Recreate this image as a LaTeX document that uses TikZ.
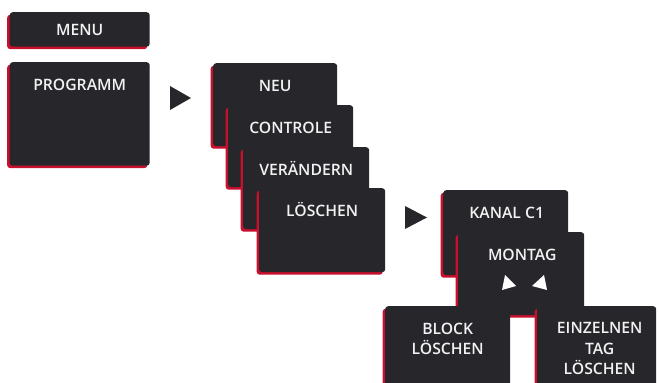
\documentclass[tikz,border=0pt]{standalone}
\usepackage{fontspec}
\setmainfont{Open Sans}
\IfFontExistsTF{OpenSans-Semibold.otf}{\newfontfamily\labelfont{OpenSans-Semibold.otf}}{%
 \IfFontExistsTF{OpenSans-SemiBold.otf}{\newfontfamily\labelfont{OpenSans-SemiBold.otf}}{%
  \IfFontExistsTF{OpenSans-Semibold.ttf}{\newfontfamily\labelfont{OpenSans-Semibold.ttf}}{%
   \IfFontExistsTF{OpenSans-SemiBold.ttf}{\newfontfamily\labelfont{OpenSans-SemiBold.ttf}}{%
    \newcommand\labelfont{\bfseries}}}}}
\usetikzlibrary{shadows}
\definecolor{boxdark}{HTML}{27272B}
\definecolor{boxred}{HTML}{C8102E}
\definecolor{txtw}{HTML}{F2F2F2}
\tikzset{
  panel/.style={fill=boxdark, draw=none, rounded corners=3pt, inner sep=0pt, anchor=north west,
    general shadow={fill=boxred, shadow xshift=-2.5pt, shadow yshift=-2.5pt}},
  lbl/.style={text=txtw, font=\labelfont\fontsize{15.7}{20.5}\selectfont, inner sep=0pt, anchor=base},
  mlbl/.style={lbl, anchor=north, align=center},
  arrowtri/.style={fill=boxdark, draw=none},
  wtri/.style={fill=white, draw=none}
}
\begin{document}
\begin{tikzpicture}[x=1pt,y=-1pt]
\useasboundingbox (0,0) rectangle (659,383);
\begin{scope}
\clip (-5,-5) rectangle (659,383);
% MENU
\node[panel, minimum width=140pt, minimum height=34.5pt] (menu) at (9.5,12) {};
\node[lbl] (tmenu) at ([yshift=-23pt]menu.north) {MENU};
% PROGRAMM
\node[panel, minimum width=140pt, minimum height=103.5pt] (prog) at (9.5,62) {};
\node[lbl] (tprog) at ([yshift=-28pt]prog.north) {PROGRAMM};
% arrow 1
\fill[arrowtri] (170,86) -- (170,110) -- (191,98) -- cycle;
% stacked menu
\node[panel, minimum width=124pt, minimum height=83pt] (neu) at (213,63) {};
\node[lbl] (tneu) at ([yshift=-28pt]neu.north) {NEU};
\node[panel, minimum width=125pt, minimum height=82pt] (ctrl) at (228,105) {};
\node[lbl] (tctrl) at ([yshift=-28pt]ctrl.north) {CONTROLE};
\node[panel, minimum width=126pt, minimum height=82pt] (ver) at (243,147) {};
\node[lbl] (tver) at ([yshift=-28pt]ver.north) {VERÄNDERN};
\node[panel, minimum width=126pt, minimum height=84pt] (loe) at (259,188) {};
\node[lbl] (tloe) at ([yshift=-28pt]loe.north) {LÖSCHEN};
% arrow 2
\fill[arrowtri] (405,206) -- (405,229) -- (427,217.5) -- cycle;
% Kanal / Montag
\node[panel, minimum width=125pt, minimum height=85pt] (kanal) at (443,190) {};
\node[lbl] (tkanal) at ([xshift=1pt,yshift=-28pt]kanal.north) {KANAL C1};
\node[panel, minimum width=126pt, minimum height=83pt] (mon) at (458,232) {};
\node[lbl] (tmon) at ([xshift=1pt,yshift=-28pt]mon.north) {MONTAG};
\fill[wtri] (505,275) -- (502,290) -- (516,286) -- cycle;
\fill[wtri] (544,275) -- (547,290) -- (532,286) -- cycle;
% bottom boxes
\node[panel, minimum width=125pt, minimum height=100pt] (block) at (385,306) {};
\node[mlbl] (tblock) at ([yshift=-16.5pt]block.north) {BLOCK\\LÖSCHEN};
\node[panel, minimum width=119pt, minimum height=100pt] (einz) at (537,306) {};
\node[mlbl] (teinz) at ([xshift=3pt,yshift=-16.5pt]einz.north) {EINZELNEN\\TAG\\LÖSCHEN};
\end{scope}
\end{tikzpicture}
\end{document}
